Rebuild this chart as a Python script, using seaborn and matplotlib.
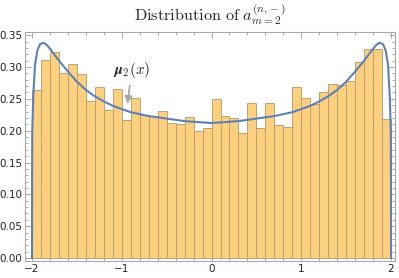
import numpy as np
import pandas as pd
import matplotlib
matplotlib.use('Agg')
import matplotlib.pyplot as plt
import seaborn as sns
from matplotlib.ticker import MultipleLocator, FormatStrFormatter

# bin heights of the histogram (40 bins of width 0.1 from -2 to 2)
bin_centers = np.round(np.arange(-1.95, 2.0, 0.1), 2)
bin_heights = [0.264, 0.311, 0.323, 0.291, 0.304, 0.289, 0.246, 0.269, 0.233, 0.266,
               0.216, 0.251, 0.224, 0.223, 0.231, 0.212, 0.211, 0.222, 0.199, 0.204,
               0.249, 0.223, 0.220, 0.196, 0.243, 0.204, 0.243, 0.209, 0.205, 0.268,
               0.251, 0.242, 0.260, 0.274, 0.271, 0.278, 0.308, 0.329, 0.328, 0.218]

# density curve mu_2(x)
curve_x = [-2.0, -1.999, -1.997, -1.986, -1.967, -1.94, -1.91, -1.87, -1.83, -1.78,
           -1.7, -1.6, -1.5, -1.4, -1.3, -1.2, -1.1, -1.0, -0.9, -0.8, -0.7, -0.6,
           -0.5, -0.4, -0.3, -0.2, -0.1, 0.0, 0.1, 0.2, 0.3, 0.4, 0.5, 0.6, 0.7,
           0.8, 0.9, 1.0, 1.1, 1.2, 1.3, 1.4, 1.5, 1.6, 1.7, 1.78, 1.83, 1.87,
           1.91, 1.94, 1.967, 1.986, 1.997, 1.999, 2.0]
curve_y = [0.0, 0.12, 0.2, 0.253, 0.303, 0.326, 0.336, 0.338, 0.334, 0.325,
           0.310, 0.293, 0.277, 0.264, 0.254, 0.246, 0.239, 0.234, 0.229, 0.226, 0.223, 0.221,
           0.219, 0.217, 0.215, 0.214, 0.213, 0.212, 0.213, 0.214, 0.215, 0.217, 0.219, 0.221, 0.223,
           0.226, 0.229, 0.234, 0.239, 0.246, 0.254, 0.264, 0.277, 0.293, 0.310, 0.325, 0.334, 0.338,
           0.336, 0.326, 0.303, 0.253, 0.2, 0.12, 0.0]

sns.set_style('ticks')
plt.rcParams['mathtext.fontset'] = 'cm'
plt.rcParams['font.family'] = ['DejaVu Sans']

fig = plt.figure(figsize=(3.99, 2.78), dpi=100)
ax = fig.add_axes([25 / 399, 1 - 261 / 278, 370 / 399, 229 / 278])

df = pd.DataFrame({'x': bin_centers, 'h': bin_heights})
sns.histplot(data=df, x='x', weights='h', bins=40, binrange=(-2, 2), stat='count',
             color='#fdd080', alpha=1.0, edgecolor='#b9a274', linewidth=0.7, ax=ax)
sns.lineplot(x=curve_x, y=curve_y, color='#5e81b5', linewidth=1.5, sort=False, ax=ax)

ax.set_xlim(-2.078, 2.044)
ax.set_ylim(-0.0047, 0.355)
ax.set_xlabel('')
ax.set_ylabel('')

ax.xaxis.set_major_locator(MultipleLocator(1))
ax.xaxis.set_minor_locator(MultipleLocator(0.2))
ax.yaxis.set_major_locator(MultipleLocator(0.05))
ax.yaxis.set_minor_locator(MultipleLocator(0.01))
ax.yaxis.set_major_formatter(FormatStrFormatter('%.2f'))
ax.tick_params(which='both', direction='in', top=True, right=True, color='#9a9a9a', width=0.6)
ax.tick_params(which='major', length=4, labelsize=7.5, labelcolor='#222222', pad=2)
ax.tick_params(which='minor', length=2)
for s in ax.spines.values():
    s.set_color('#a8a8a8')
    s.set_linewidth(0.8)

ax.annotate(r'$\mathbfit{\mu}_2(x)$', xy=(-0.935, 0.242), xytext=(-0.89, 0.296),
            ha='center', va='center', fontsize=11,
            arrowprops=dict(arrowstyle='-|>', color='#a8a8a8', lw=1.3,
                            mutation_scale=11, shrinkA=2, shrinkB=0))

ax.text(0.5, 1.022, r'$\mathrm{Distribution\ of\ }a_{m=2}^{(n,\!-)}$',
        transform=ax.transAxes, ha='center', va='bottom', fontsize=11.7)

fig.savefig('out.png', dpi=100)
